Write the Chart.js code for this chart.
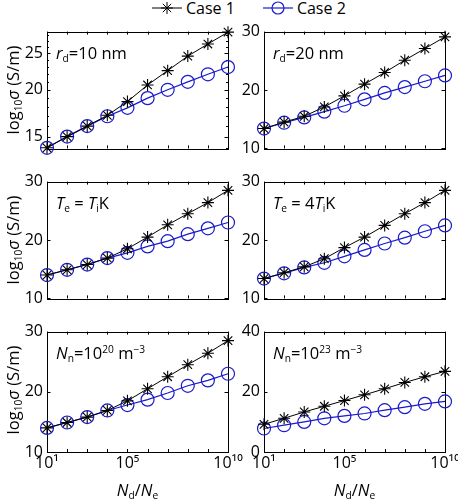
<!DOCTYPE html>
<html>
<head>
<meta charset="utf-8">
<script src="https://cdn.jsdelivr.net/npm/chart.js@4.4.1/dist/chart.umd.min.js"></script>
<style>
    body { margin: 0; background: #fff; width: 458px; height: 500px; overflow: hidden; position: relative; font-family: 'Open Sans', sans-serif; }
    canvas { position: absolute; }
    .txt { position: absolute; font-size: 16.5px; color: #000; white-space: nowrap; line-height: 1; transform: translateY(-50%); }
    .ytitle { transform: translate(-50%, -50%) rotate(-90deg); }
    .xtitle { transform: translate(-50%, -50%); }
    sub { font-size: 0.62em; vertical-align: -0.3em; line-height: 0; }
    sup { font-size: 0.62em; vertical-align: 0.6em; line-height: 0; }
    #legend { position: absolute; top: 0; left: 150px; height: 16px; display: flex; align-items: center; font-size: 16px; }
    #legend svg { display: block; }
</style>
</head>
<body>
<div id="legend">
    <svg width="32" height="16"><line x1="2" y1="8" x2="32" y2="8" stroke="#000" stroke-width="1"/>
        <g stroke="#000" stroke-width="1"><line x1="11" y1="8" x2="23" y2="8"/><line x1="17" y1="2" x2="17" y2="14"/><line x1="12.8" y1="3.8" x2="21.2" y2="12.2"/><line x1="12.8" y1="12.2" x2="21.2" y2="3.8"/></g></svg>
    <span style="margin-left:4px">Case 1</span>
    <svg width="34" height="16" style="margin-left:26px"><line x1="2" y1="8" x2="32" y2="8" stroke="rgb(25,25,205)" stroke-width="1.2"/><circle cx="17" cy="8" r="6" fill="none" stroke="rgb(25,25,205)" stroke-width="1.2"/></svg>
    <span style="margin-left:2px">Case 2</span>
</div>
<script>
// N_d / N_e values (x)
const ratio = [1e1, 1e2, 1e3, 1e4, 1e5, 1e6, 1e7, 1e8, 1e9, 1e10];
const xTickLabels = { 1: '10¹', 5: '10⁵', 10: '10¹⁰' };

// log10 sigma
const case1Rd10 = [14.0, 15.0, 16.0, 17.1, 18.6, 20.6, 22.5, 24.6, 26.5, 28.5];
const case2Rd10 = [14.0, 15.0, 16.0, 17.0, 17.9, 19.0, 20.0, 21.0, 22.0, 23.0];
const case1Rd20 = [13.4, 14.5, 15.5, 17.1, 19.0, 21.0, 23.0, 25.1, 27.1, 29.1];
const case2Rd20 = [13.4, 14.4, 15.3, 16.3, 17.3, 18.4, 19.5, 20.5, 21.5, 22.5];
const case1TeTi = [14.0, 14.9, 15.8, 16.9, 18.5, 20.5, 22.6, 24.5, 26.4, 28.5];
const case2TeTi = [14.0, 14.9, 15.8, 16.9, 17.8, 18.9, 19.8, 21.0, 22.0, 23.0];
const case1Te4Ti = [13.4, 14.4, 15.4, 16.8, 18.7, 20.5, 22.5, 24.5, 26.4, 28.5];
const case2Te4Ti = [13.4, 14.3, 15.3, 16.1, 17.2, 18.3, 19.4, 20.4, 21.5, 22.5];
const case1Nn20 = [14.0, 14.9, 15.8, 16.9, 18.5, 20.5, 22.5, 24.5, 26.4, 28.5];
const case2Nn20 = [14.0, 14.9, 15.8, 16.9, 17.8, 18.7, 19.8, 21.0, 21.9, 23.0];
const case1Nn23 = [9.2, 11.2, 13.3, 15.2, 17.1, 19.0, 21.0, 23.1, 25.0, 26.8];
const case2Nn23 = [7.8, 8.9, 10.0, 11.2, 12.0, 12.8, 13.9, 14.9, 16.0, 16.8];

// y tick values
const yTicksRd10 = [15, 20, 25];
const yMinorRd10 = [14, 16, 17, 18, 19, 21, 22, 23, 24, 26, 27, 28];
const yTicks10to30 = [10, 20, 30];
const yTicks0to40 = [0, 20, 40];

const FONT = "'Open Sans', sans-serif";
const BLUE = 'rgb(25, 25, 205)';
const PAD_T = 10, PAD_R = 20;
const cols = [[47, 228], [264, 445]];
const rows = [[28, 152], [178, 302], [328, 452]];

const panels = [
    { c1: case1Rd10, c2: case2Rd10, yType: 'logarithmic', min: 13.95, max: 28.6, major: yTicksRd10, minor: yMinorRd10, note: '<i>r</i><sub>d</sub>=10 nm', col: 0, row: 0 },
    { c1: case1Rd20, c2: case2Rd20, yType: 'linear', min: 10, max: 30, major: yTicks10to30, minor: [], note: '<i>r</i><sub>d</sub>=20 nm', col: 1, row: 0 },
    { c1: case1TeTi, c2: case2TeTi, yType: 'linear', min: 10, max: 30, major: yTicks10to30, minor: [], note: '<i>T</i><sub>e</sub> = <i>T</i><sub>i</sub>K', col: 0, row: 1 },
    { c1: case1Te4Ti, c2: case2Te4Ti, yType: 'linear', min: 10, max: 30, major: yTicks10to30, minor: [], note: '<i>T</i><sub>e</sub> = 4<i>T</i><sub>i</sub>K', col: 1, row: 1 },
    { c1: case1Nn20, c2: case2Nn20, yType: 'linear', min: 10, max: 30, major: yTicks10to30, minor: [], note: '<i>N</i><sub>n</sub>=10<sup>20</sup> m<sup>−3</sup>', col: 0, row: 2 },
    { c1: case1Nn23, c2: case2Nn23, yType: 'linear', min: 0, max: 40, major: yTicks0to40, minor: [], note: '<i>N</i><sub>n</sub>=10<sup>23</sup> m<sup>−3</sup>', col: 1, row: 2 }
];

// box + inward tick marks on all four sides, MATLAB style
const boxTicks = {
    id: 'boxTicks',
    beforeDatasetsDraw(chart, args, opts) {
        const { ctx, chartArea: a, scales: { x, y } } = chart;
        ctx.save();
        ctx.strokeStyle = '#000';
        ctx.lineWidth = 1;
        ctx.strokeRect(Math.round(a.left) + 0.5, Math.round(a.top) + 0.5, Math.round(a.width), Math.round(a.height));
        ctx.beginPath();
        x.ticks.forEach(t => {
            const px = Math.round(x.getPixelForValue(t.value)) + 0.5;
            ctx.moveTo(px, a.bottom); ctx.lineTo(px, a.bottom - 3);
            ctx.moveTo(px, a.top); ctx.lineTo(px, a.top + 3);
        });
        y.ticks.forEach(t => {
            const len = opts.major.includes(t.value) ? 3.5 : 2;
            const py = Math.round(y.getPixelForValue(t.value)) + 0.5;
            ctx.moveTo(a.left, py); ctx.lineTo(a.left + len, py);
            ctx.moveTo(a.right, py); ctx.lineTo(a.right - len, py);
        });
        ctx.stroke();
        ctx.restore();
    }
};

function addText(html, cls, left, top) {
    const el = document.createElement('div');
    el.className = 'txt ' + cls;
    el.innerHTML = html;
    el.style.left = left + 'px';
    el.style.top = top + 'px';
    document.body.appendChild(el);
}

panels.forEach(p => {
    const [pl, pr] = cols[p.col];
    const [pt, pb] = rows[p.row];
    const yW = p.col === 0 ? 47 : 40;
    const bottomRow = p.row === 2;
    const xH = bottomRow ? 34 : 10;

    const cv = document.createElement('canvas');
    cv.width = yW + (pr - pl) + PAD_R;
    cv.height = PAD_T + (pb - pt) + xH;
    cv.style.left = (pl - yW) + 'px';
    cv.style.top = (pt - PAD_T) + 'px';
    document.body.appendChild(cv);

    new Chart(cv.getContext('2d'), {
        type: 'line',
        data: {
            datasets: [
                { label: 'Case 1', data: ratio.map((r, i) => ({ x: r, y: p.c1[i] })), borderColor: '#000', backgroundColor: '#000', borderWidth: 1, pointStyle: 'star', pointRadius: 6, pointBorderWidth: 1.1, pointBorderColor: '#000', clip: false },
                { label: 'Case 2', data: ratio.map((r, i) => ({ x: r, y: p.c2[i] })), borderColor: BLUE, backgroundColor: 'transparent', borderWidth: 1.2, pointStyle: 'circle', pointRadius: 6.5, pointBorderWidth: 1.2, pointBorderColor: BLUE, pointBackgroundColor: 'transparent', clip: false }
            ]
        },
        options: {
            responsive: false,
            animation: false,
            devicePixelRatio: 1,
            layout: { padding: { top: PAD_T, right: PAD_R, left: 0, bottom: 0 } },
            plugins: { legend: { display: false }, tooltip: { enabled: false }, boxTicks: { major: p.major } },
            scales: {
                x: {
                    type: 'logarithmic', min: 10, max: 1e10,
                    grid: { display: false, drawTicks: false }, border: { display: false },
                    afterBuildTicks: s => { s.ticks = ratio.map(v => ({ value: v })); },
                    afterFit: s => { s.height = xH; },
                    ticks: { display: bottomRow, autoSkip: false, maxRotation: 0, padding: 2, color: '#000', font: { family: FONT, size: 16 },
                        callback: v => xTickLabels[Math.round(Math.log10(v))] || '' }
                },
                y: {
                    type: p.yType, min: p.min, max: p.max,
                    grid: { display: false, drawTicks: false }, border: { display: false },
                    afterBuildTicks: s => { s.ticks = [...p.major, ...p.minor].sort((a, b) => a - b).map(v => ({ value: v })); },
                    afterFit: s => { s.width = yW; },
                    ticks: { autoSkip: false, padding: 4, color: '#000', font: { family: FONT, size: 16 },
                        callback: v => p.major.includes(v) ? String(v) : '' }
                }
            }
        },
        plugins: [boxTicks]
    });

    addText(p.note, '', pl + 9, pt + 25);
    if (p.col === 0) addText('log<sub>10</sub><i>σ</i> (S/m)', 'ytitle', 13, (pt + pb) / 2);
    if (bottomRow) addText('<i>N</i><sub>d</sub>/<i>N</i><sub>e</sub>', 'xtitle', (pl + pr) / 2, 490);
});
</script>
</body>
</html>
